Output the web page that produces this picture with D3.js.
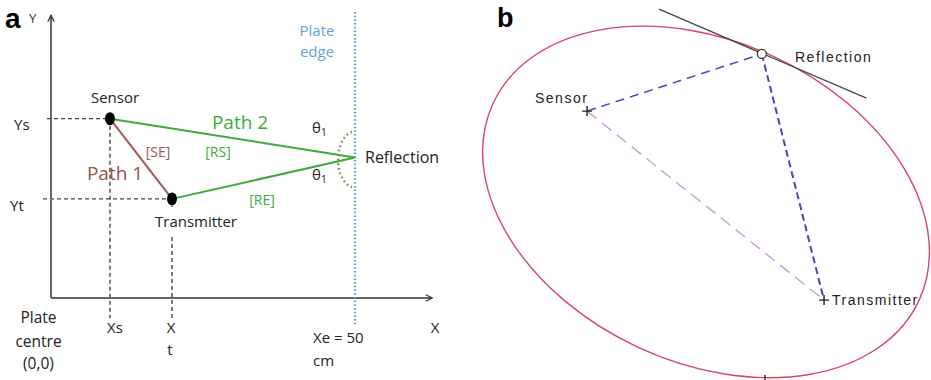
<!DOCTYPE html>
<html>
<head>
<meta charset="utf-8">
<script src="https://cdn.jsdelivr.net/npm/d3@7"></script>
<style>
  body { margin: 0; background: #fff; }
  svg { display: block; }
  .ta { font-family: "Open Sans", Lato, sans-serif; }
  .tb { font-family: "Liberation Sans", Arial, sans-serif; letter-spacing: 1.5px; }
</style>
</head>
<body>
<svg id="fig" width="931" height="380"></svg>
<script>
// ---- panel a : plate coordinates (cm) ----
var axis_max = [62.7, 46.5];          // x, y end of axes
var plate_edge = 50;                   // Xe
var sensor_a = [9.7, 29.5];
var transmitter_a = [19.9, 16.3];
var reflection_a = [50, 23.1];

// ---- panel b : ellipse view (arbitrary units) ----
var sensor_b = [25.4, 24.1];
var transmitter_b = [76.8, 65.1];
var reflection_b = [63.3, 11.7];
var tangent_b = [[41.0, 2.0], [86.0, 21.3]];
var ellipse_b = {cx: 51.2, cy: 43.8, a: 50.9, b: 34.8, angle: 24.8};

var svg = d3.select("#fig");

// scales
var xa = d3.scaleLinear().domain([0, 50]).range([51, 355]);
var ya = d3.scaleLinear().domain([0, 50]).range([298, -6]);
var xb = d3.scaleLinear().domain([0, 100]).range([470, 931]);
var yb = d3.scaleLinear().domain([0, 100]).range([0, 461]);

var defs = svg.append("defs");
defs.append("marker")
    .attr("id", "arr")
    .attr("viewBox", "0 0 10 10")
    .attr("refX", 9).attr("refY", 5)
    .attr("markerWidth", 8).attr("markerHeight", 8)
    .attr("markerUnits", "userSpaceOnUse")
    .attr("orient", "auto")
  .append("path")
    .attr("d", "M1,1 L9,5 L1,9")
    .attr("fill", "none")
    .attr("stroke", "#333")
    .attr("stroke-width", 1.6);

var a = svg.append("g");

// dashed guides
var dash = "4,3";
function guide(x1, y1, x2, y2) {
    a.append("line")
        .attr("x1", x1).attr("y1", y1).attr("x2", x2).attr("y2", y2)
        .attr("stroke", "#444").attr("stroke-width", 1.4)
        .attr("stroke-dasharray", dash);
}
guide(47, ya(sensor_a[1]), xa(sensor_a[0]), ya(sensor_a[1]));
guide(43, ya(transmitter_a[1]), xa(transmitter_a[0]), ya(transmitter_a[1]));
guide(xa(sensor_a[0]), ya(sensor_a[1]), xa(sensor_a[0]), 318);
guide(xa(transmitter_a[0]), ya(transmitter_a[1]), xa(transmitter_a[0]), 207);
guide(xa(transmitter_a[0]), 237, xa(transmitter_a[0]), 318);

// axes
a.append("line")
    .attr("x1", xa(0)).attr("y1", ya(0)).attr("x2", xa(axis_max[0])).attr("y2", ya(0))
    .attr("stroke", "#666").attr("stroke-width", 2)
    .attr("marker-end", "url(#arr)");
a.append("line")
    .attr("x1", xa(0)).attr("y1", ya(0)).attr("x2", xa(0)).attr("y2", ya(axis_max[1]))
    .attr("stroke", "#666").attr("stroke-width", 2)
    .attr("marker-end", "url(#arr)");

// plate edge
a.append("line")
    .attr("x1", xa(plate_edge)).attr("y1", 12).attr("x2", xa(plate_edge)).attr("y2", 325)
    .attr("stroke", "#5b9bd5").attr("stroke-width", 2.2)
    .attr("stroke-dasharray", "1.5,2.2");

// angle arc (dotted)
var arc_r = [17, 28];
var cx = xa(reflection_a[0]), cy = ya(reflection_a[1]);
var arcPts = d3.range(-80, 81, 4).map(function(t) {
    var r = t * Math.PI / 180;
    return [cx - arc_r[0] * Math.cos(r), cy + 2 + arc_r[1] * Math.sin(r)];
});
a.append("path")
    .attr("d", d3.line()(arcPts))
    .attr("fill", "none")
    .attr("stroke", "#7f8c3c").attr("stroke-width", 2.4)
    .attr("stroke-dasharray", "1.6,3");

// paths
var line = d3.line().x(function(d){ return xa(d[0]); }).y(function(d){ return ya(d[1]); });
a.append("path")
    .attr("d", line([sensor_a, transmitter_a]))
    .attr("stroke", "#a85656").attr("stroke-width", 2).attr("fill", "none");
a.append("path")
    .attr("d", line([sensor_a, reflection_a, transmitter_a]))
    .attr("stroke", "#3bab3b").attr("stroke-width", 2).attr("fill", "none");

// dots
[sensor_a, transmitter_a].forEach(function(p) {
    a.append("ellipse")
        .attr("cx", xa(p[0])).attr("cy", ya(p[1]))
        .attr("rx", 5).attr("ry", 6.5)
        .attr("fill", "#000");
});

// text panel a
function ta(txt, x, y, size, color, anchor) {
    return a.append("text").attr("class", "ta")
        .attr("x", x).attr("y", y)
        .attr("font-size", size)
        .attr("fill", color || "#222")
        .attr("text-anchor", anchor || "start")
        .text(txt);
}
a.append("text").attr("x", 5).attr("y", 28)
    .attr("font-family", "Liberation Sans, Arial, sans-serif")
    .attr("font-weight", "bold").attr("font-size", 28).text("a");
ta("Y", 29, 23, 13, "#333");
ta("Ys", 14, 130, 15);
ta("Yt", 10, 211, 15);
ta("Sensor", 115, 103, 15, "#222", "middle");
ta("Transmitter", 196, 227, 15, "#222", "middle");
ta("Path 2", 240, 129, 19, "#3bab3b", "middle");
ta("Path 1", 115, 180, 19, "#9b4f4f", "middle");
ta("[SE]", 158, 157, 14, "#9b5656", "middle");
ta("[RS]", 218, 157, 14, "#3bab3b", "middle");
ta("[RE]", 262, 205, 14, "#3bab3b", "middle");
ta("Reflection", 365, 163, 16);
ta("Plate", 317, 36, 15, "#6a9fd8", "middle");
ta("edge", 317, 57, 15, "#6a9fd8", "middle");
[133, 180].forEach(function(y) {
    var t = ta("θ", 312, y, 15);
    t.append("tspan").attr("font-size", 10).attr("dy", 3).text("1");
});
ta("Plate", 38.5, 323, 15.5, "#222", "middle");
ta("centre", 38.5, 347, 15.5, "#222", "middle");
ta("(0,0)", 38.5, 369, 15.5, "#222", "middle");
ta("Xs", 115, 333, 15, "#222", "middle");
ta("X", 171, 333, 15, "#222", "middle");
ta("t", 170, 355, 15, "#222", "middle");
ta("Xe = 50", 313, 343, 15);
ta("cm", 313, 366, 15);
ta("X", 435, 333, 15, "#222", "middle");

// ---- panel b ----
var b = svg.append("g");
b.append("text").attr("x", 497).attr("y", 27)
    .attr("font-family", "Liberation Sans, Arial, sans-serif")
    .attr("font-weight", "bold").attr("font-size", 27).text("b");

b.append("ellipse")
    .attr("cx", xb(ellipse_b.cx)).attr("cy", yb(ellipse_b.cy))
    .attr("rx", xb(ellipse_b.a) - xb(0)).attr("ry", yb(ellipse_b.b) - yb(0))
    .attr("transform", "rotate(" + ellipse_b.angle + "," + xb(ellipse_b.cx) + "," + yb(ellipse_b.cy) + ")")
    .attr("fill", "none").attr("stroke", "#d9465e").attr("stroke-width", 1.4);

var lineb = d3.line().x(function(d){ return xb(d[0]); }).y(function(d){ return yb(d[1]); });
b.append("path")
    .attr("d", lineb(tangent_b))
    .attr("stroke", "#444").attr("stroke-width", 1.3).attr("fill", "none");
b.append("path")
    .attr("d", lineb([sensor_b, transmitter_b]))
    .attr("stroke", "#c99ad9").attr("stroke-width", 1.4).attr("fill", "none")
    .attr("stroke-dasharray", "12,7");
b.append("path")
    .attr("d", lineb([sensor_b, reflection_b]))
    .attr("stroke", "#4545c4").attr("stroke-width", 1.5).attr("fill", "none")
    .attr("stroke-dasharray", "9,6");
b.append("path")
    .attr("d", lineb([reflection_b, transmitter_b]))
    .attr("stroke", "#4545c4").attr("stroke-width", 2).attr("fill", "none")
    .attr("stroke-dasharray", "7,4");

b.append("circle")
    .attr("cx", xb(reflection_b[0])).attr("cy", yb(reflection_b[1])).attr("r", 4.5)
    .attr("fill", "#fff").attr("stroke", "#333").attr("stroke-width", 1.3);

[sensor_b, transmitter_b].forEach(function(p) {
    var x = xb(p[0]), y = yb(p[1]);
    b.append("path")
        .attr("d", "M" + (x - 5) + "," + y + "H" + (x + 5) + "M" + x + "," + (y - 5) + "V" + (y + 5))
        .attr("stroke", "#222").attr("stroke-width", 1.4);
});
// clipped marker at the bottom edge
b.append("line")
    .attr("x1", 765).attr("y1", 375).attr("x2", 765).attr("y2", 380)
    .attr("stroke", "#222").attr("stroke-width", 1.4);

function tb(txt, x, y) {
    return b.append("text").attr("class", "tb")
        .attr("x", x).attr("y", y).attr("font-size", 14).attr("fill", "#222").text(txt);
}
tb("Reflection", 795, 62);
tb("Sensor", 535, 103);
tb("Transmitter", 832, 305);
</script>
</body>
</html>
